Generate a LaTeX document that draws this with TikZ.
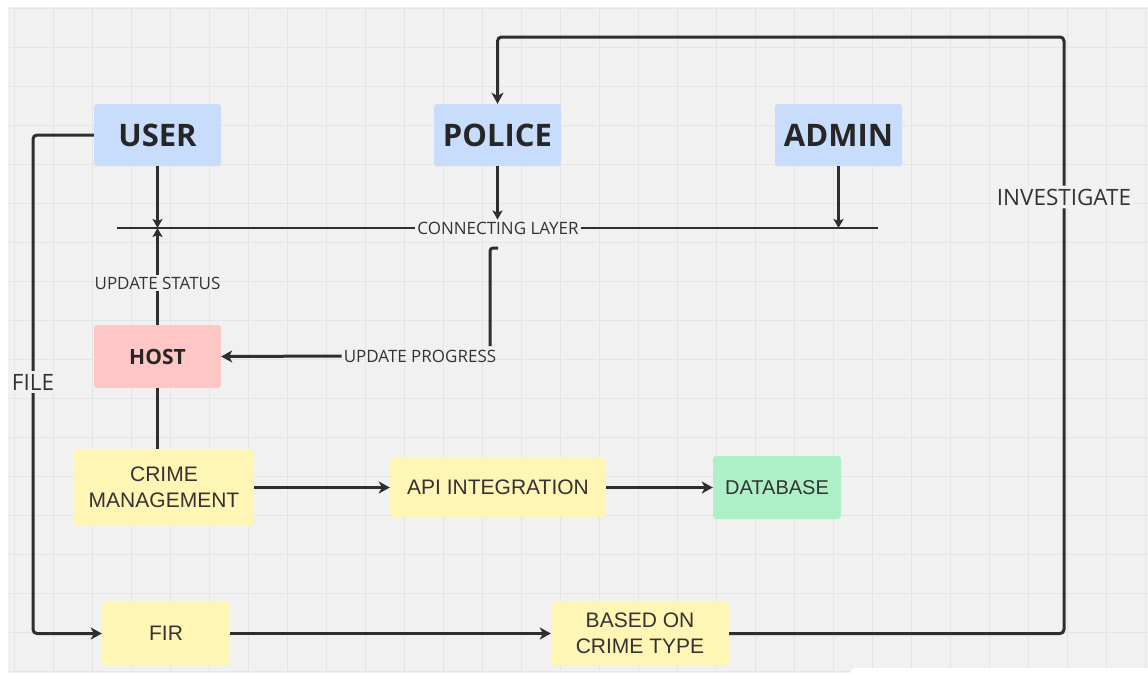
\documentclass[tikz,border=0pt]{standalone}
\usepackage{fontspec}
\setmainfont{Open Sans}
\newfontfamily\boxfont{Liberation Sans}
\usetikzlibrary{arrows.meta}
\definecolor{bgc}{HTML}{F1F1F1}
\definecolor{gridc}{HTML}{E5E5E5}
\definecolor{ink}{HTML}{2E2E2E}
\definecolor{txt}{HTML}{333333}
\definecolor{blueb}{HTML}{C8DCFC}
\definecolor{pinkb}{HTML}{FFC6C6}
\definecolor{yelb}{HTML}{FFF5B4}
\definecolor{greenb}{HTML}{ADF0C6}
\tikzset{
  box/.style={rounded corners=3pt, inner sep=0pt, align=center, text=txt},
  rolebox/.style={box, fill=blueb, minimum width=127pt, minimum height=62pt,
    font=\fontsize{31}{34}\selectfont\bfseries, text=black!85},
  procbox/.style={box, fill=yelb, font=\boxfont\fontsize{21}{26}\selectfont},
  lbl/.style={inner sep=2pt, text=txt, font=\fontsize{17}{20}\selectfont},
  biglbl/.style={inner sep=3pt, text=txt, font=\fontsize{22.5}{26}\selectfont},
  conn/.style={draw=ink, line width=3pt, rounded corners=4pt},
  thinconn/.style={draw=ink, line width=2.3pt},
  tip/.style={-{Stealth[length=11pt,width=12pt,inset=3pt]}},
  smalltip/.style={-{Stealth[length=9pt,width=10pt,inset=2pt]}}
}
\begin{document}
\begin{tikzpicture}[x=1pt,y=-1pt]
\useasboundingbox (0,0) rectangle (1148,673);
\fill[white] (0,0) rectangle (1148,673);
\fill[bgc] (8,7) rectangle (1148,673);
\foreach \x in {14,53,...,1148} \draw[gridc, line width=1pt] (\x,7) -- (\x,673);
\foreach \y in {8,47,...,673} \draw[gridc, line width=1pt] (8,\y) -- (1148,\y);
\fill[white, rounded corners=6pt] (850,668) rectangle (1170,700);

% role boxes
\node[rolebox] (user) at (157.5,135) {USER};
\node[rolebox] (police) at (497.5,135) {POLICE};
\node[rolebox] (admin) at (838.5,135) {ADMIN};

% process boxes
\node[box, fill=pinkb, minimum width=127pt, minimum height=63pt,
  font=\fontsize{21}{24}\selectfont\bfseries, text=black!85] (host) at (157.5,356.5) {HOST};
\node[procbox, minimum width=180pt, minimum height=77pt] (cm) at (164,487.5) {CRIME\\MANAGEMENT};
\node[procbox, minimum width=216pt, minimum height=59pt] (api) at (498,487.5) {API INTEGRATION};
\node[box, fill=greenb, minimum width=128pt, minimum height=63pt,
  font=\boxfont\fontsize{20}{24}\selectfont] (db) at (777,487.5) {DATABASE};
\node[procbox, minimum width=128pt, minimum height=63pt] (fir) at (166,633.5) {FIR};
\node[procbox, minimum width=178pt, minimum height=63pt] (based) at (640,633.5) {BASED ON\\CRIME TYPE};

% connecting layer
\coordinate (L1) at (117,228);
\coordinate (L2) at (878,228);
\node[lbl] (cl) at (498,228) {CONNECTING LAYER};
\draw[thinconn, line width=2.6pt] (L1) -- (cl.west);
\draw[thinconn, line width=2.6pt] (cl.east) -- (L2);

% user / police / admin to layer
\coordinate (uL) at (157.5,228);
\draw[thinconn, smalltip] (user.south) -- (uL);
\draw[thinconn, smalltip] (police.south) -- (police.south |- cl.north);
\draw[thinconn, smalltip] (admin.south) -- (admin.south |- L2);

% host update status
\node[lbl] (us) at (157.5,283) {UPDATE STATUS};
\draw[thinconn] (host.north) -- (us.south);
\draw[thinconn, smalltip] (us.north) -- (uL);

% update progress
\coordinate (p0) at (498,248);
\coordinate (p1) at (490,248);
\node[lbl] (up) at (420,356) {UPDATE PROGRESS};
\coordinate (p2) at (490,346);
\draw[conn, rounded corners=3pt] (p0) -- (p1) -- (p2);
\draw[conn, tip] (up.west) -- (host.east);

% host to crime management
\draw[thinconn] (host.south) -- (cm.north -| host.south);

% processing chain
\draw[conn, tip] (cm.east |- api.west) -- (api.west);
\draw[conn, tip] (api.east) -- (db.west);

% file
\node[biglbl, fill=bgc] (file) at (33,382) {FILE};
\draw[conn] (user.west) -| (file.north);
\draw[conn, tip] (file.south) |- (fir.west);
\draw[conn, tip] (fir.east) -- (based.west);

% investigate
\node[biglbl, fill=bgc] (inv) at (1064,197) {INVESTIGATE};
\coordinate (tR) at (1064,37);
\coordinate (tL) at (497.5,37);
\draw[conn] (based.east) -| (inv.south);
\draw[conn, tip] (inv.north) -- (tR) -- (tL) -- (police.north);
\end{tikzpicture}
\end{document}
